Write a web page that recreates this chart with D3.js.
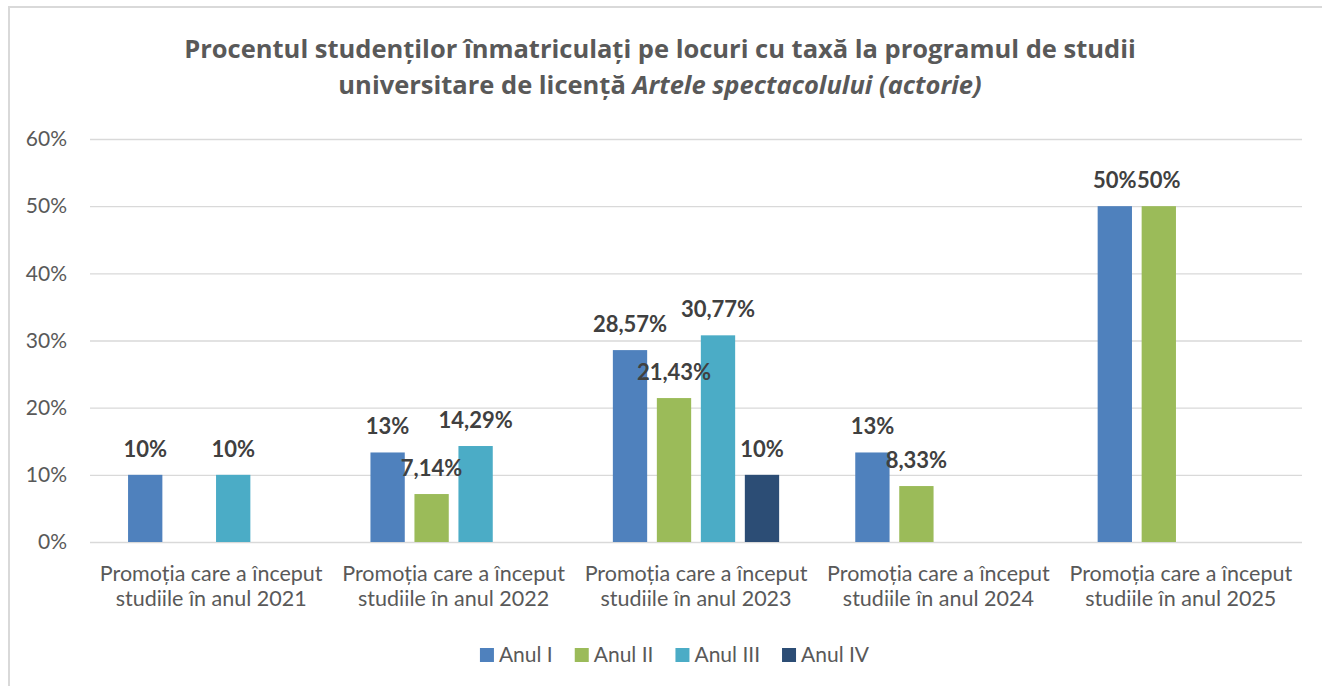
<!DOCTYPE html>
<html>
<head>
<meta charset="utf-8">
<script src="https://cdn.jsdelivr.net/npm/d3@7"></script>
<style>
  body { margin: 0; background: #ffffff; }
  svg { font-family: Lato, "Open Sans", sans-serif; }
</style>
</head>
<body>
<div id="chart-area"></div>
<script>
var categories = [
    "Promoția care a început|studiile în anul 2021",
    "Promoția care a început|studiile în anul 2022",
    "Promoția care a început|studiile în anul 2023",
    "Promoția care a început|studiile în anul 2024",
    "Promoția care a început|studiile în anul 2025"
];
var seriesNames = ["Anul I", "Anul II", "Anul III", "Anul IV"];

var anulI   = [10, 13.33, 28.57, 13.33, 50];
var anulII  = [null, 7.14, 21.43, 8.33, 50];
var anulIII = [10, 14.29, 30.77, null, null];
var anulIV  = [null, null, 10, null, null];

var labelsI   = ["10%", "13%", "28,57%", "13%", "50%"];
var labelsII  = [null, "7,14%", "21,43%", "8,33%", "50%"];
var labelsIII = ["10%", "14,29%", "30,77%", null, null];
var labelsIV  = [null, null, "10%", null, null];

var yTicks = [0, 10, 20, 30, 40, 50, 60];
var colors = ["#4f81bd", "#9bbb59", "#4bacc6", "#2c4d75"];

var svgWidth  = 1322;
var svgHeight = 686;
var margin = { top: 139, left: 90, bottom: 144, right: 20 };
var width  = svgWidth - margin.left - margin.right;
var height = svgHeight - margin.top - margin.bottom;

var allValues = [anulI, anulII, anulIII, anulIV];
var allLabels = [labelsI, labelsII, labelsIII, labelsIV];

var data = [];
seriesNames.forEach((s, i) => {
    categories.forEach((c, j) => {
        if (allValues[i][j] != null) {
            data.push({ cat: c, series: s, value: allValues[i][j], label: allLabels[i][j], idx: i });
        }
    });
});

var svg = d3.select("#chart-area")
            .append("svg")
            .attr("width", svgWidth)
            .attr("height", svgHeight);

// chart area border
svg.append("rect")
    .attr("x", 9)
    .attr("y", 7)
    .attr("width", 1400)
    .attr("height", 800)
    .attr("fill", "none")
    .attr("stroke", "#d9d9d9")
    .attr("stroke-width", 2);

// title
var title = svg.append("text")
               .attr("x", 660)
               .attr("y", 58)
               .attr("text-anchor", "middle")
               .style("font-family", "'Open Sans', sans-serif")
               .attr("font-size", "25.5px")
               .attr("font-weight", "bold")
               .attr("fill", "#595959");
title.append("tspan")
     .text("Procentul studenților înmatriculați pe locuri cu taxă la programul de studii");
title.append("tspan")
     .attr("x", 660)
     .attr("dy", 36)
     .text("universitare de licență ");
title.append("tspan")
     .attr("font-style", "italic")
     .text("Artele spectacolului (actorie)");

var graphSpace = svg.append("g")
                    .attr("transform", "translate(" + margin.left + ", " + margin.top + ")");

var x0 = d3.scaleBand()
           .domain(categories)
           .range([0, width])
           .padding(0);

var x1 = d3.scaleBand()
           .domain(seriesNames)
           .range([0, x0.bandwidth()])
           .paddingInner(0.22)
           .paddingOuter(0.865);

var y = d3.scaleLinear()
          .domain([0, 60])
          .range([height, 0]);

// y axis with gridlines
var yAxisCall = d3.axisLeft(y)
                  .tickValues(yTicks)
                  .tickSize(-width)
                  .tickPadding(23)
                  .tickFormat((d) => d + "%");

var yAxisGroup = graphSpace.append("g")
                           .attr("class", "y-axis")
                           .call(yAxisCall);
yAxisGroup.select(".domain").remove();
yAxisGroup.selectAll("line")
          .attr("stroke", "#d9d9d9")
          .attr("stroke-width", 1.3);
yAxisGroup.selectAll("text")
          .attr("font-size", "21px")
          .attr("font-family", "Lato, sans-serif")
          .attr("fill", "#595959");

// x axis labels
var xAxisCall = d3.axisBottom(x0).tickSize(0).tickFormat("");
var xAxisGroup = graphSpace.append("g")
                           .attr("class", "x-axis")
                           .attr("transform", "translate(0," + height + ")")
                           .call(xAxisCall);
xAxisGroup.select(".domain").remove();
xAxisGroup.selectAll(".tick")
          .append("text")
          .attr("text-anchor", "middle")
          .attr("font-family", "Lato, sans-serif")
          .attr("font-size", "21.5px")
          .attr("fill", "#595959")
          .selectAll("tspan")
          .data((d) => d.split("|"))
          .enter()
          .append("tspan")
          .attr("x", 0)
          .attr("y", (d, i) => 39 + i * 25)
          .text((d) => d);

// bars
graphSpace.selectAll("rect.bar")
          .data(data)
          .enter()
          .append("rect")
          .attr("class", "bar")
          .attr("x", (d) => x0(d.cat) + x1(d.series))
          .attr("width", x1.bandwidth())
          .attr("y", (d) => y(d.value))
          .attr("height", (d) => height - y(d.value))
          .attr("fill", (d) => colors[d.idx]);

// data labels
graphSpace.selectAll("text.value")
          .data(data)
          .enter()
          .append("text")
          .attr("class", "value")
          .attr("x", (d) => x0(d.cat) + x1(d.series) + x1.bandwidth() / 2)
          .attr("y", (d) => y(d.value) - 18)
          .attr("text-anchor", "middle")
          .attr("font-size", "22px")
          .attr("font-weight", "bold")
          .attr("fill", "#404040")
          .text((d) => d.label);

// legend
var legend = svg.append("g");
var lx = 0;
seriesNames.forEach((s, i) => {
    var item = legend.append("g").attr("transform", "translate(" + lx + ",0)");
    item.append("rect")
        .attr("x", 0)
        .attr("y", -7)
        .attr("width", 14)
        .attr("height", 14)
        .attr("fill", colors[i]);
    var t = item.append("text")
                .attr("x", 19)
                .attr("y", 7)
                .attr("font-size", "21px")
                .attr("fill", "#595959")
                .text(s);
    lx += 19 + t.node().getComputedTextLength() + 22;
});
var legendWidth = lx - 22;
legend.attr("transform", "translate(" + (674.5 - legendWidth / 2) + ", 655)");
</script>
</body>
</html>
